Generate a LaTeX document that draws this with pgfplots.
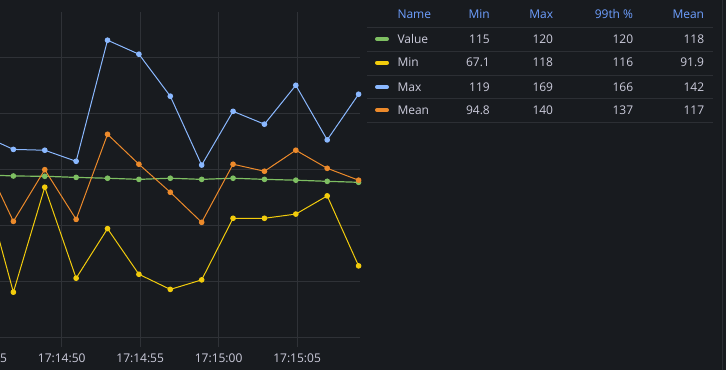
\documentclass[border=0pt]{standalone}
\usepackage{pgfplots}
\pgfplotsset{compat=1.18}
\usepackage{fontspec}
\setmainfont{Open Sans}
\definecolor{bg}{HTML}{181B1F}
\definecolor{gridc}{HTML}{2F3237}
\definecolor{txt}{HTML}{CCCCDC}
\definecolor{hdr}{HTML}{6E9FFF}
\definecolor{cgreen}{HTML}{7EBF62}
\definecolor{cyellow}{HTML}{F2CC0C}
\definecolor{cblue}{HTML}{8AB8FF}
\definecolor{corange}{HTML}{EC8A2B}
\definecolor{sepc}{HTML}{2C2F34}
\begin{document}
\begin{tikzpicture}[x=1pt,y=1pt]
\path[use as bounding box, fill=bg] (0,0) rectangle (726,370);
\begin{axis}[at={(-95.2pt,23pt)}, anchor=south west, scale only axis,
  width=455.2pt, height=335pt,
  xmin=40, xmax=69.01, ymin=56.43, ymax=176.07,
  axis line style={draw=none}, major tick length=0pt,
  xtick={45,50,55,60,65},
  xticklabels={17:14:45,17:14:50,17:14:55,17:15:00,17:15:05},
  ytick={60,80,100,120,140,160}, yticklabels={},
  grid=major, major grid style={draw=gridc, line width=0.8pt},
  xticklabel style={font=\fontsize{12}{14}\selectfont, text=txt, anchor=base, inner sep=0pt, yshift=-15.5pt},
  every axis plot/.append style={line width=1pt, mark=*, mark size=2.3pt},
]
\addplot[color=cgreen, line width=1.2pt, mark options={fill=cgreen, draw=cgreen, line width=1pt}] coordinates {
(44.92,118.0)(46.92,117.5)(48.92,117.4)(50.92,117.0)(52.92,116.7)(54.92,116.3)(56.92,116.7)(58.92,116.3)(60.92,116.7)(62.92,116.3)(64.92,116.0)(66.92,115.6)(68.92,115.25)};
\addplot[color=cyellow, mark options={fill=cyellow, draw=cyellow}] coordinates {
(44.92,117.3)(46.92,76.0)(48.92,113.5)(50.92,81.0)(52.92,98.7)(54.92,82.4)(56.92,77.0)(58.92,80.4)(60.92,102.4)(62.92,102.4)(64.92,103.9)(66.92,110.4)(68.92,85.4)};
\addplot[color=cblue, mark options={fill=cblue, draw=cblue}] coordinates {
(44.92,132.1)(46.92,127.0)(48.92,126.7)(50.92,122.75)(52.92,166.0)(54.92,161.0)(56.92,146.0)(58.92,121.4)(60.92,140.6)(62.92,136.0)(64.92,149.9)(66.92,130.4)(68.92,146.7)};
\addplot[color=corange, mark options={fill=corange, draw=corange}] coordinates {
(44.92,125.0)(46.92,101.3)(48.92,119.75)(50.92,102.0)(52.92,132.4)(54.92,121.7)(56.92,111.7)(58.92,100.96)(60.92,121.7)(62.92,119.2)(64.92,126.7)(66.92,120.25)(68.92,116.0)};
\end{axis}
% legend table
\draw[sepc, line width=0.8pt] (722.5,0) -- (722.5,370);
\foreach \yy in {342.7,318.3,294.7,271.3,247.7} {\draw[sepc, line width=0.8pt] (367.3,\yy) -- (712.7,\yy);}
\begin{scope}[every node/.style={font=\fontsize{12}{14}\selectfont, inner sep=0pt}]
\node[anchor=base west, text=hdr] at (397.3,351) {Name};
\node[anchor=base east, text=hdr] at (490,351) {Min};
\node[anchor=base east, text=hdr] at (553.3,351) {Max};
\node[anchor=base east, text=hdr] at (633.3,351) {99th \%};
\node[anchor=base east, text=hdr] at (704.3,351) {Mean};
% rows
\draw[cgreen, line width=4pt, line cap=round] (377,331) -- (387,331);
\draw[cyellow, line width=4pt, line cap=round] (377,307.3) -- (387,307.3);
\draw[cblue, line width=4pt, line cap=round] (377,283) -- (387,283);
\draw[corange, line width=4pt, line cap=round] (377,260) -- (387,260);
\node[anchor=base west, text=txt] at (397.3,326.7) {Value};
\node[anchor=base east, text=txt] at (490,326.7) {115};
\node[anchor=base east, text=txt] at (553.3,326.7) {120};
\node[anchor=base east, text=txt] at (633.3,326.7) {120};
\node[anchor=base east, text=txt] at (704.3,326.7) {118};
\node[anchor=base west, text=txt] at (397.3,303) {Min};
\node[anchor=base east, text=txt] at (490,303) {67.1};
\node[anchor=base east, text=txt] at (553.3,303) {118};
\node[anchor=base east, text=txt] at (633.3,303) {116};
\node[anchor=base east, text=txt] at (704.3,303) {91.9};
\node[anchor=base west, text=txt] at (397.3,278.7) {Max};
\node[anchor=base east, text=txt] at (490,278.7) {119};
\node[anchor=base east, text=txt] at (553.3,278.7) {169};
\node[anchor=base east, text=txt] at (633.3,278.7) {166};
\node[anchor=base east, text=txt] at (704.3,278.7) {142};
\node[anchor=base west, text=txt] at (397.3,255.7) {Mean};
\node[anchor=base east, text=txt] at (490,255.7) {94.8};
\node[anchor=base east, text=txt] at (553.3,255.7) {140};
\node[anchor=base east, text=txt] at (633.3,255.7) {137};
\node[anchor=base east, text=txt] at (704.3,255.7) {117};
\end{scope}
\end{tikzpicture}
\end{document}
